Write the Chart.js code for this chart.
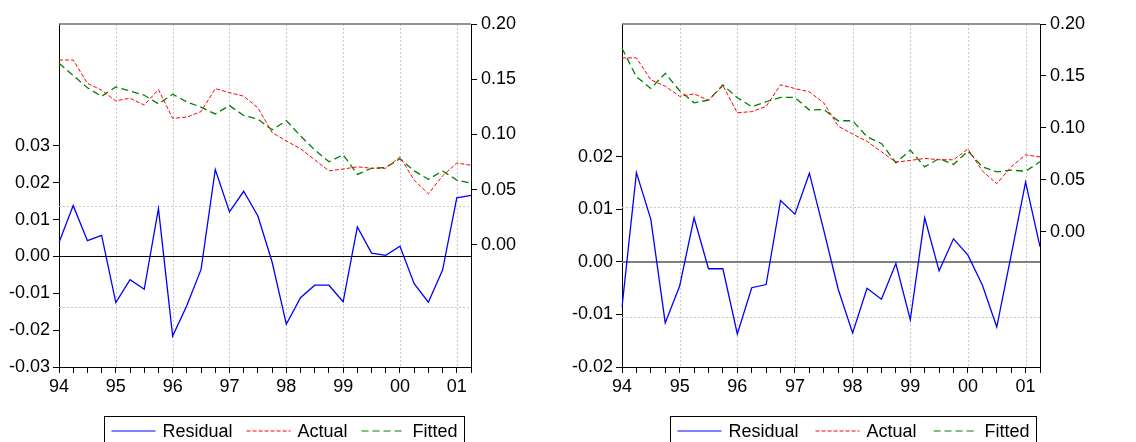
<!DOCTYPE html>
<html>
<head>
<meta charset="utf-8">
<title>Residual, Actual, Fitted</title>
<script src="https://cdn.jsdelivr.net/npm/chart.js@4.4.1/dist/chart.umd.min.js"></script>
<style>
  body { margin: 0; background: #fff; }
  .wrap { display: flex; width: 1136px; height: 442px; overflow: hidden; }
  canvas { display: block; }
</style>
</head>
<body>
<div class="wrap">
  <canvas id="left" width="568" height="442"></canvas>
  <canvas id="right" width="568" height="442"></canvas>
</div>
<script>
const FONT = "'Liberation Sans', Arial, sans-serif";

// quarterly sample 1994Q1 - 2001Q2
const years = ['94', '95', '96', '97', '98', '99', '00', '01'];
const quarters = years.flatMap(y => ['Q1', 'Q2', 'Q3', 'Q4'].map(q => y + q)).slice(0, 30);

// dependent variable (right axis, both panels)
const actual = [0.1674, 0.1674, 0.1463, 0.1401, 0.1304, 0.1328, 0.1266, 0.1407, 0.1146, 0.1157,
  0.1207, 0.1415, 0.1379, 0.1347, 0.1241, 0.1017, 0.0941, 0.0871, 0.0771, 0.0671,
  0.0687, 0.0707, 0.0694, 0.0694, 0.0797, 0.0587, 0.0463, 0.0626, 0.0741, 0.0721];

// model 1
const fittedA = [0.1645, 0.1534, 0.1423, 0.1345, 0.1430, 0.1394, 0.1355, 0.1277, 0.1364, 0.1295,
  0.1247, 0.1186, 0.1261, 0.1172, 0.1139, 0.1042, 0.1125, 0.0987, 0.0860, 0.0753,
  0.0816, 0.0638, 0.0694, 0.0701, 0.0780, 0.0670, 0.0594, 0.0670, 0.0587, 0.0560];
const residA = [0.0038, 0.0138, 0.0043, 0.0057, -0.0125, -0.0063, -0.0089, 0.0130, -0.0216, -0.0133,
  -0.0035, 0.0236, 0.0121, 0.0177, 0.0110, -0.0015, -0.0184, -0.0112, -0.0078, -0.0078,
  -0.0123, 0.0080, 0.0009, 0.0003, 0.0028, -0.0074, -0.0124, -0.0037, 0.0159, 0.0166];

// model 2
const fittedB = [0.1766, 0.1493, 0.1380, 0.1525, 0.1358, 0.1242, 0.1268, 0.1413, 0.1291, 0.1204,
  0.1252, 0.1294, 0.1294, 0.1172, 0.1178, 0.1069, 0.1069, 0.0915, 0.0851, 0.0665,
  0.0787, 0.0626, 0.0706, 0.0649, 0.0777, 0.0626, 0.0578, 0.0594, 0.0584, 0.0674];
const residB = [-0.0086, 0.0170, 0.0081, -0.0116, -0.0046, 0.0084, -0.0013, -0.0013, -0.0137, -0.0049,
  -0.0043, 0.0117, 0.0091, 0.0169, 0.0060, -0.0052, -0.0135, -0.0050, -0.0071, -0.0003,
  -0.0110, 0.0084, -0.0017, 0.0044, 0.0013, -0.0044, -0.0124, 0.0013, 0.0152, 0.0029];

const residTicksA = [-0.03, -0.02, -0.01, 0, 0.01, 0.02, 0.03];
const residTicksB = [-0.02, -0.01, 0, 0.01, 0.02];
const levelTicks = [0, 0.05, 0.10, 0.15, 0.20];

// regression standard errors (dotted band around zero)
const seA = 0.0137;
const seB = 0.0105;

Chart.defaults.font.family = FONT;
Chart.defaults.font.size = 18;
Chart.defaults.color = '#000';

const panelPlugin = {
  id: 'panel',
  beforeDatasetsDraw(chart, args, opts) {
    const { ctx, chartArea: a, scales } = chart;
    ctx.save();
    ctx.strokeStyle = '#c8c8c8';
    ctx.lineWidth = 1;
    ctx.setLineDash([2, 2]);
    ctx.beginPath();
    years.forEach((y, i) => {
      if (i === 0) return;
      const x = Math.round(scales.x.getPixelForValue(i * 4)) + 0.5;
      ctx.moveTo(x, a.top);
      ctx.lineTo(x, a.bottom);
    });
    [opts.se, -opts.se].forEach(v => {
      const y = Math.round(scales.y.getPixelForValue(v)) + 0.5;
      ctx.moveTo(a.left, y);
      ctx.lineTo(a.right, y);
    });
    ctx.stroke();

    ctx.setLineDash([]);
    ctx.strokeStyle = opts.zeroColor;
    ctx.lineWidth = opts.zeroWidth;
    const y0 = Math.round(scales.y.getPixelForValue(0)) + (opts.zeroWidth % 2 ? 0.5 : 0);
    ctx.beginPath();
    ctx.moveTo(a.left, y0);
    ctx.lineTo(a.right, y0);
    ctx.stroke();

    // top edge of the frame
    ctx.strokeStyle = '#6e6e6e';
    ctx.lineWidth = 1.5;
    ctx.beginPath();
    ctx.moveTo(a.left, a.top);
    ctx.lineTo(a.right, a.top);
    ctx.stroke();
    ctx.restore();
  },
  afterDraw(chart, args, opts) {
    const { ctx } = chart;
    const sets = chart.data.datasets;
    const sample = 44, gapText = 7, pad = 7;
    ctx.save();
    ctx.font = '18px ' + FONT;
    const widths = sets.map(d => sample + gapText + ctx.measureText(d.label).width);
    const total = widths.reduce((s, w) => s + w, 0) + opts.gap * (sets.length - 1) + pad * 2;
    let x = Math.round(opts.legendX - total / 2) + 0.5;
    const top = 416.5, mid = 431;
    ctx.strokeStyle = '#000';
    ctx.lineWidth = 1;
    ctx.strokeRect(x, top, Math.round(total), 40);
    x += pad;
    sets.forEach((d, i) => {
      ctx.strokeStyle = d.borderColor;
      ctx.lineWidth = 1;
      ctx.setLineDash(d.borderDash || []);
      ctx.beginPath();
      ctx.moveTo(x, mid);
      ctx.lineTo(x + sample, mid);
      ctx.stroke();
      ctx.setLineDash([]);
      ctx.fillStyle = '#000';
      ctx.textAlign = 'left';
      ctx.textBaseline = 'middle';
      ctx.fillText(d.label, x + sample + gapText, mid + 1);
      x += widths[i] + opts.gap;
    });
    ctx.restore();
  }
};

function makePanel(id, p) {
  const tickGrid = { drawOnChartArea: false, tickLength: 6, color: '#000' };
  return new Chart(document.getElementById(id), {
    type: 'line',
    data: {
      labels: quarters,
      datasets: [
        { label: 'Residual', data: p.resid, yAxisID: 'y', borderColor: '#0000ff', borderWidth: 1.3 },
        { label: 'Actual', data: actual, yAxisID: 'y2', borderColor: '#ff0000', borderWidth: 1, borderDash: [4, 2] },
        { label: 'Fitted', data: p.fitted, yAxisID: 'y2', borderColor: '#008000', borderWidth: 1.3, borderDash: [7, 4] }
      ]
    },
    options: {
      responsive: false,
      animation: false,
      devicePixelRatio: 1,
      elements: { point: { radius: 0 }, line: { tension: 0, fill: false } },
      layout: { padding: { top: 24, left: 0, right: 0, bottom: 0 } },
      plugins: {
        legend: { display: false },
        tooltip: { enabled: false },
        panel: { se: p.se, zeroColor: p.zeroColor, zeroWidth: p.zeroWidth, legendX: p.legendX, gap: p.legendGap }
      },
      scales: {
        x: {
          grid: tickGrid,
          border: { color: '#000' },
          ticks: {
            autoSkip: false, maxRotation: 0, padding: 3,
            callback: (v, i) => i % 4 === 0 ? years[i / 4] : ''
          },
          afterFit: s => { s.height = 75; }
        },
        y: {
          position: 'left',
          min: p.residMin, max: p.residMax,
          grid: tickGrid,
          border: { color: '#000' },
          afterBuildTicks: s => { s.ticks = p.residTicks.map(v => ({ value: v })); },
          ticks: { padding: 3, callback: v => v.toFixed(2) },
          afterFit: s => { s.width = p.leftWidth; }
        },
        y2: {
          position: 'right',
          min: p.levelMin, max: 0.20,
          grid: tickGrid,
          border: { color: '#000' },
          afterBuildTicks: s => { s.ticks = levelTicks.map(v => ({ value: v })); },
          ticks: { padding: 4, callback: v => v.toFixed(2) },
          afterFit: s => { s.width = p.rightWidth; }
        }
      }
    },
    plugins: [panelPlugin]
  });
}

makePanel('left', {
  resid: residA, fitted: fittedA, se: seA,
  residMin: -0.03, residMax: 0.0631, residTicks: residTicksA,
  levelMin: -0.1105,
  zeroColor: '#000', zeroWidth: 1,
  leftWidth: 59, rightWidth: 97,
  legendX: 284, legendGap: 14
});

makePanel('right', {
  resid: residB, fitted: fittedB, se: seB,
  residMin: -0.02, residMax: 0.0453, residTicks: residTicksB,
  levelMin: -0.13,
  zeroColor: '#808080', zeroWidth: 2,
  leftWidth: 54, rightWidth: 96,
  legendX: 285, legendGap: 17
});
</script>
</body>
</html>
